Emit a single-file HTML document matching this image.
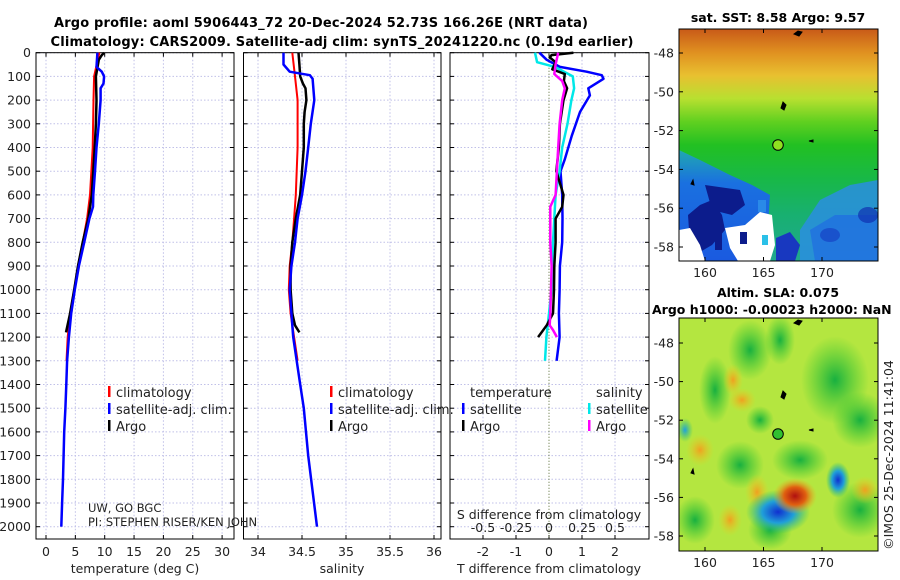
<!DOCTYPE html>
<html><head><meta charset="utf-8">
<style>
html,body{margin:0;padding:0;background:#fff;}
svg{display:block;font-family:"DejaVu Sans","Liberation Sans",sans-serif;}
</style></head>
<body>
<svg id="fig" width="900" height="580" viewBox="0 0 900 580" xmlns="http://www.w3.org/2000/svg">
<defs>
<linearGradient id="sstg" x1="0" y1="0" x2="0" y2="1">
<stop offset="0" stop-color="#c85a18"/><stop offset="0.1" stop-color="#e09020"/>
<stop offset="0.2" stop-color="#e8c030"/><stop offset="0.3" stop-color="#b8e030"/>
<stop offset="0.4" stop-color="#60d020"/><stop offset="0.5" stop-color="#22c022"/>
<stop offset="0.65" stop-color="#18b848"/><stop offset="0.8" stop-color="#18b070"/>
<stop offset="1" stop-color="#20a890"/>
</linearGradient>
<radialGradient id="redtop" cx="0.5" cy="0" r="0.5"><stop offset="0" stop-color="#a01010"/><stop offset="1" stop-color="#c04010" stop-opacity="0"/></radialGradient>
<radialGradient id="rblob"><stop offset="0" stop-color="#b01010"/><stop offset="0.5" stop-color="#e06010"/><stop offset="1" stop-color="#f0b020" stop-opacity="0"/></radialGradient>
<radialGradient id="oblob"><stop offset="0" stop-color="#f0a020"/><stop offset="1" stop-color="#e8d020" stop-opacity="0"/></radialGradient>
<radialGradient id="gblob"><stop offset="0" stop-color="#18b040"/><stop offset="1" stop-color="#30c830" stop-opacity="0"/></radialGradient>
<radialGradient id="bblob"><stop offset="0" stop-color="#1030d0"/><stop offset="0.5" stop-color="#20a0d8"/><stop offset="1" stop-color="#20c070" stop-opacity="0"/></radialGradient>
<radialGradient id="cblob"><stop offset="0" stop-color="#20a0e0"/><stop offset="1" stop-color="#20c070" stop-opacity="0"/></radialGradient>
<linearGradient id="leftblue" x1="0" y1="0" x2="0" y2="1"><stop offset="0" stop-color="#20a8b0"/><stop offset="0.3" stop-color="#1a70e0"/><stop offset="1" stop-color="#1a5ae0"/></linearGradient>
<clipPath id="clipTop"><rect x="679" y="29" width="199" height="232"/></clipPath>
<clipPath id="clipBot"><rect x="679" y="318" width="199" height="233"/></clipPath>
</defs>

<text x="321" y="27" text-anchor="middle" font-size="13" font-weight="bold" textLength="534">Argo profile: aoml 5906443_72 20-Dec-2024 52.73S 166.26E (NRT data)</text>
<text x="342" y="46" text-anchor="middle" font-size="13" font-weight="bold" textLength="583">Climatology: CARS2009. Satellite-adj clim: synTS_20241220.nc (0.19d earlier)</text>

<g id="panels"></g>

<!-- top map -->
<g>
<text x="778" y="22" text-anchor="middle" font-size="12.5" font-weight="bold">sat. SST: 8.58 Argo: 9.57</text>
<g clip-path="url(#clipTop)">
<rect x="679" y="29" width="199" height="232" fill="url(#sstg)"/>
<ellipse cx="795" cy="29" rx="60" ry="22" fill="url(#redtop)"/>
<polygon points="679,150 700,160 730,175 752,185 770,195 768,225 760,261 679,261" fill="url(#leftblue)"/>
<polygon points="800,230 820,200 850,185 878,180 878,261 800,261" fill="#2a8ee0" opacity="0.85"/>
<polygon points="810,230 835,215 878,215 878,261 815,261" fill="#2070e0" opacity="0.8"/>
<polygon points="688,215 700,205 712,200 722,215 725,230 712,245 700,252 690,245" fill="#0c1c8c"/>
<polygon points="705,185 740,190 745,205 732,215 712,210" fill="#0c1c8c"/>
<polygon points="679,230 690,228 700,245 705,261 679,261" fill="#fff"/>
<polygon points="725,228 745,225 760,212 772,215 775,245 770,261 738,261 730,248" fill="#fff"/>
<rect x="715" y="232" width="7" height="18" fill="#0c1c8c"/><rect x="740" y="232" width="7" height="12" fill="#0c1c8c"/>
<rect x="758" y="200" width="8" height="12" fill="#2a8ae8"/>
<rect x="762" y="235" width="6" height="10" fill="#2ac0e8"/>
<polygon points="776,238 790,232 800,245 795,261 776,261" fill="#1838c0"/>
<ellipse cx="830" cy="235" rx="10" ry="7" fill="#1848c8" opacity="0.8"/>
<ellipse cx="868" cy="215" rx="10" ry="8" fill="#1030b0" opacity="0.7"/>
</g>
<rect x="679" y="29" width="199" height="232" fill="none" stroke="#000" stroke-width="1"/>
<path d="M794,34 l4,-3 l4,1 l-3,4 z M781,108 l2,-6 l3,3 l-2,5 z M809,141 l4,-1 l0,2 z M691,184 l2,-4 l1,5 z" fill="#000" stroke="#000"/>
<circle cx="778" cy="145" r="5.3" fill="#90e020" stroke="#000" stroke-width="1"/>
<g id="topTicks"></g>
</g>

<!-- bottom map -->
<g>
<text x="778" y="297" text-anchor="middle" font-size="12.5" font-weight="bold">Altim. SLA: 0.075</text>
<text x="652" y="314" font-size="12.5" font-weight="bold">Argo h1000: -0.00023 h2000: NaN</text>
<g clip-path="url(#clipBot)">
<rect x="679" y="318" width="199" height="233" fill="#b4e640"/>
<ellipse cx="750" cy="350" rx="22" ry="30" fill="url(#gblob)"/>
<ellipse cx="715" cy="390" rx="16" ry="34" fill="url(#gblob)"/>
<ellipse cx="760" cy="420" rx="14" ry="14" fill="url(#gblob)"/>
<ellipse cx="740" cy="465" rx="24" ry="24" fill="url(#gblob)"/>
<ellipse cx="800" cy="460" rx="28" ry="20" fill="url(#gblob)"/>
<ellipse cx="835" cy="380" rx="34" ry="44" fill="url(#gblob)"/>
<ellipse cx="860" cy="420" rx="28" ry="28" fill="url(#gblob)"/>
<ellipse cx="860" cy="510" rx="28" ry="28" fill="url(#gblob)"/>
<ellipse cx="695" cy="520" rx="20" ry="24" fill="url(#gblob)"/>
<ellipse cx="770" cy="530" rx="22" ry="20" fill="url(#gblob)"/>
<ellipse cx="780" cy="340" rx="15" ry="25" fill="url(#gblob)"/>
<ellipse cx="733" cy="380" rx="10" ry="16" fill="url(#oblob)"/>
<ellipse cx="700" cy="450" rx="14" ry="16" fill="url(#oblob)"/>
<ellipse cx="742" cy="400" rx="14" ry="12" fill="url(#oblob)"/>
<ellipse cx="757" cy="492" rx="12" ry="18" fill="url(#oblob)"/>
<ellipse cx="730" cy="520" rx="12" ry="16" fill="url(#oblob)"/>
<ellipse cx="865" cy="490" rx="14" ry="14" fill="url(#oblob)"/>
<ellipse cx="685" cy="430" rx="8" ry="12" fill="url(#cblob)"/>
<ellipse cx="838" cy="480" rx="12" ry="18" fill="url(#bblob)"/>
<ellipse cx="778" cy="512" rx="32" ry="22" fill="url(#bblob)"/>
<ellipse cx="795" cy="496" rx="22" ry="18" fill="url(#rblob)"/>
</g>
<rect x="679" y="318" width="199" height="233" fill="none" stroke="#000" stroke-width="1"/>
<path d="M794,323 l4,-3 l4,1 l-3,4 z M781,397 l2,-6 l3,3 l-2,5 z M809,430 l4,-1 l0,2 z M691,473 l2,-4 l1,5 z" fill="#000" stroke="#000"/>
<circle cx="778" cy="434" r="5.3" fill="#30c030" stroke="#000" stroke-width="1"/>
<g id="botTicks"></g>
</g>
<text transform="translate(893,455) rotate(-90)" text-anchor="middle" font-size="12.5" fill="#222">©IMOS 25-Dec-2024 11:41:04</text>
</svg>

<script>
// ---- data ----
const depthTicks = [0,100,200,300,400,500,600,700,800,900,1000,1100,1200,1300,1400,1500,1600,1700,1800,1900,2000];
const tempTicks = [0,5,10,15,20,25,30];
const salTicks = [34,34.5,35,35.5,36];
const salTickLabels = ["34","34.5","35","35.5","36"];
const diffTicks = [-2,-1,0,1,2];
const sdiffTickLabels = ["-0.5","-0.25","0","0.25","0.5"];
const sdiffTicks = [-0.5,-0.25,0,0.25,0.5];

const tClimDepth = [0,100,200,400,600,700,800,900,1000,1100,1200,1300];
const tClim      = [9.1,8.2,8.1,7.95,7.5,7.0,6.25,5.45,4.8,4.1,3.7,3.5];
const tSatDepth = [0,60,80,100,130,150,200,300,400,500,600,650,700,800,900,1000,1100,1200,1300,1400,1500,1600,1700,1800,1900,2000];
const tSat      = [8.75,8.6,9.5,9.9,9.8,9.3,9.3,9.0,8.6,8.35,8.06,8.0,7.4,6.5,5.6,4.9,4.3,3.9,3.6,3.45,3.3,3.1,3.0,2.9,2.75,2.6];
const tArgoDepth = [0,10,30,100,200,300,400,500,600,700,800,900,1000,1100,1180];
const tArgo      = [9.9,9.5,9.0,8.5,8.6,8.5,8.3,8.06,7.8,7.2,6.25,5.45,4.8,4.1,3.4];

const sClimDepth = [0,100,200,400,600,700,800,900,1000,1100,1200,1300];
const sClim      = [34.39,34.42,34.45,34.45,34.43,34.41,34.39,34.36,34.35,34.37,34.41,34.45];
const sSatDepth = [0,50,80,95,110,200,300,400,500,600,700,800,900,1000,1100,1200,1300,1400,1500,1700,2000];
const sSat      = [34.29,34.29,34.36,34.59,34.62,34.64,34.6,34.57,34.54,34.5,34.45,34.42,34.38,34.36,34.38,34.4,34.44,34.48,34.52,34.57,34.67];
const sArgoDepth = [0,50,100,130,150,200,250,300,400,500,600,700,800,900,1000,1100,1150,1180];
const sArgo      = [34.46,34.47,34.48,34.51,34.54,34.55,34.53,34.52,34.52,34.5,34.48,34.43,34.39,34.37,34.37,34.39,34.42,34.47];

const dTSatDepth = [0,30,60,80,95,110,150,180,250,350,450,500,600,700,800,900,1000,1100,1200,1300];
const dTSat      = [-0.29,-0.07,0.33,1.14,1.6,1.65,1.19,1.24,0.94,0.69,0.48,0.35,0.4,0.41,0.4,0.33,0.32,0.3,0.32,0.23];
const dSSatDepth = [0,40,60,100,150,200,300,400,500,600,700,800,900,1000,1100,1200,1300];
const dSSat      = [-0.106,-0.09,0.045,0.18,0.19,0.17,0.14,0.1,0.08,0.05,0.04,0.03,0.025,0.02,0.0,-0.02,-0.03];
const dTArgoDepth = [0,10,20,40,70,90,120,150,200,300,400,500,600,650,700,800,900,1000,1100,1150,1200];
const dTArgo      = [0.74,0.08,0.02,0.2,0.1,0.48,0.45,0.55,0.44,0.33,0.3,0.22,0.44,0.4,0.2,0.2,0.16,0.15,0.12,-0.07,-0.33];
const dSArgoDepth = [0,50,90,120,150,200,300,400,500,600,650,700,800,900,1000,1100,1150,1170,1200];
const dSArgo      = [0.07,0.05,0.04,0.1,0.12,0.1,0.08,0.07,0.06,0.05,0.01,0.01,0.01,0.02,0.015,0.01,0.005,0.03,0.06];

const mapLatTicks = [-48,-50,-52,-54,-56,-58];
const mapLonTicks = [160,165,170];

// ---- scales ----
const NS="http://www.w3.org/2000/svg";
const TOP=52.7, BOT=539;
const yD = d => TOP + d*0.237;
const xT = t => 46 + t*5.87;
const xS = s => 258 + (s-34)*88;
const xDT = v => 549 + v*33;
const xDS = v => 549 + v*132;
const panels=[{x0:36,x1:234,name:'temperature-panel'},{x0:243.5,x1:441,name:'salinity-panel'},{x0:450,x1:649,name:'difference-panel'}];
const root=document.getElementById('panels');
function mk(tag,attrs,parent){const e=document.createElementNS(NS,tag);for(const k in attrs)e.setAttribute(k,attrs[k]);(parent||root).appendChild(e);return e;}
function txt(x,y,s,size,anchor,parent){const t=mk('text',{x:x,y:y,'font-size':size,'text-anchor':anchor||'start',fill:'#222'},parent);t.textContent=s;return t;}

const gridXs=[tempTicks.map(xT), salTicks.map(xS), diffTicks.map(xDT)];
panels.forEach((p,i)=>{
  const g=mk('g',{});
  
  
  depthTicks.forEach(d=>{
    mk('line',{x1:p.x0,x2:p.x1,y1:yD(d),y2:yD(d),stroke:'#c0c0e8','stroke-width':1,'stroke-dasharray':'1.5,2'},g);
    mk('line',{x1:p.x0,x2:p.x0+4,y1:yD(d),y2:yD(d),stroke:'#000'},g);
    mk('line',{x1:p.x1-4,x2:p.x1,y1:yD(d),y2:yD(d),stroke:'#000'},g);
  });
  gridXs[i].forEach(x=>{
    if(!(i===2 && Math.abs(x-549)<0.5)) mk('line',{x1:x,x2:x,y1:TOP,y2:BOT,stroke:'#c0c0e8','stroke-width':1,'stroke-dasharray':'1.5,2'},g);
    mk('line',{x1:x,x2:x,y1:BOT,y2:BOT-4,stroke:'#000'},g);
    mk('line',{x1:x,x2:x,y1:TOP,y2:TOP+4,stroke:'#000'},g);
  });
  mk('rect',{x:p.x0,y:TOP,width:p.x1-p.x0,height:BOT-TOP,fill:'none',stroke:'#000','stroke-width':1},g);
});
depthTicks.forEach(d=>{const t=txt(31,yD(d)+4.5,String(d),12.5,'end');

});
tempTicks.forEach(v=>{const t=txt(xT(v),556,String(v),12.5,'middle');

});
salTicks.forEach((v,i)=>{const t=txt(xS(v),556,salTickLabels[i],12.5,'middle');

});
diffTicks.forEach(v=>{const t=txt(xDT(v),556,String(v),12.5,'middle');

});
sdiffTicks.forEach((v,i)=>{const t=txt(xDS(v),532,sdiffTickLabels[i],12.5,'middle');

});
let t;
t=txt(135,573,'temperature (deg C)',12.5,'middle');


t=txt(342,573,'salinity',12.5,'middle');


t=txt(549,573,'T difference from climatology',12.5,'middle');


t=txt(549,519,'S difference from climatology',12.5,'middle');


const z=mk('line',{x1:549,x2:549,y1:TOP,y2:BOT,stroke:'#556b2f','stroke-width':1,'stroke-dasharray':'1,2'});



function line(depths,vals,xf,color,name,w){
  const d=depths.map((dd,i)=>(i?'L':'M')+xf(vals[i]).toFixed(1)+','+yD(dd).toFixed(1)).join(' ');
  const p=mk('path',{d:d,fill:'none',stroke:color,'stroke-width':w||2.5,'stroke-linejoin':'round'});
  
  
}
line(tClimDepth,tClim,xT,'#ff0000','temp-climatology-line',2);
line(tArgoDepth,tArgo,xT,'#000','temp-argo-line',2.5);
line(tSatDepth,tSat,xT,'#0000ff','temp-satellite-line',2.5);
line(sClimDepth,sClim,xS,'#ff0000','sal-climatology-line',2);
line(sArgoDepth,sArgo,xS,'#000','sal-argo-line',2.5);
line(sSatDepth,sSat,xS,'#0000ff','sal-satellite-line',2.5);
line(dTSatDepth,dTSat,xDT,'#0000ff','t-diff-satellite-line',2.5);
line(dSSatDepth,dSSat,xDS,'#00e8e8','s-diff-satellite-line',2.5);
line(dTArgoDepth,dTArgo,xDT,'#000','t-diff-argo-line',2.5);
line(dSArgoDepth,dSArgo,xDS,'#ff00ff','s-diff-argo-line',2.5);

function leg(x,y,color,label,name){
  const g=mk('g',{});
  
  
  mk('rect',{x:x,y:y-11,width:2.5,height:11,fill:color},g);
  txt(x+8,y,label,13,'start',g);
}
leg(108,397,'#ff0000','climatology','legend-temp-climatology');
leg(108,414,'#0000ff','satellite-adj. clim.','legend-temp-satellite');
leg(108,431,'#000','Argo','legend-temp-argo');
leg(330,397,'#ff0000','climatology','legend-sal-climatology');
leg(330,414,'#0000ff','satellite-adj. clim.','legend-sal-satellite');
leg(330,431,'#000','Argo','legend-sal-argo');
t=txt(470,397,'temperature',13);


t=txt(596,397,'salinity',13);


leg(462,414,'#0000ff','satellite','legend-tdiff-satellite');
leg(462,431,'#000','Argo','legend-tdiff-argo');
leg(588,414,'#00e8e8','satellite','legend-sdiff-satellite');
leg(588,431,'#ff00ff','Argo','legend-sdiff-argo');
t=txt(88,512,'UW, GO BGC',11.5);


t=txt(88,526,'PI: STEPHEN RISER/KEN JOHN',11.5);



function mapTicks(gid,y0,y1,latY){
  const g=document.getElementById(gid);
  mapLatTicks.forEach(l=>{const y=latY(l);
    mk('line',{x1:679,x2:683,y1:y,y2:y,stroke:'#000'},g);mk('line',{x1:874,x2:878,y1:y,y2:y,stroke:'#000'},g);
    const tt=txt(674,y+4.5,String(l),12.5,'end',g);
    
    });
  mapLonTicks.forEach(l=>{const x=705+(l-160)*11.7;
    mk('line',{x1:x,x2:x,y1:y1,y2:y1-4,stroke:'#000'},g);mk('line',{x1:x,x2:x,y1:y0,y2:y0+4,stroke:'#000'},g);
    const tt=txt(x,y1+16,String(l),12.5,'middle',g);
    
    });
}
mapTicks('topTicks',29,261,l=>53+(-48-l)*19.4);
mapTicks('botTicks',318,551,l=>343+(-48-l)*19.3);
</script>
</body></html>
